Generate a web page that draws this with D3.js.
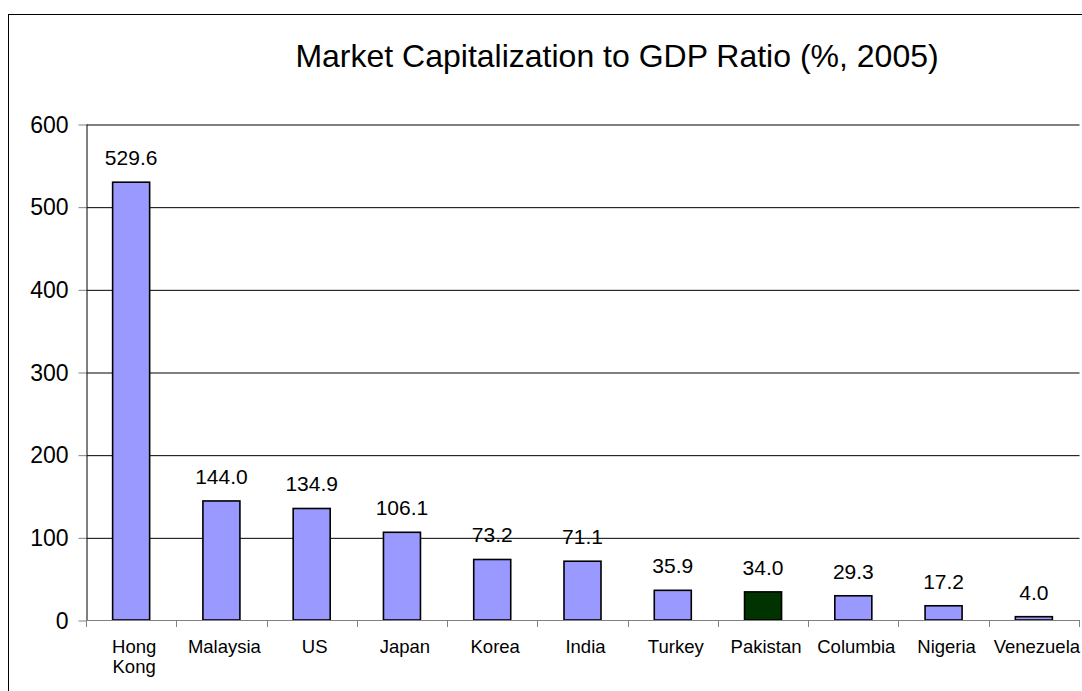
<!DOCTYPE html>
<html>
<head>
<meta charset="utf-8">
<script src="https://cdn.jsdelivr.net/npm/d3@7"></script>
<style>
  html, body { margin: 0; padding: 0; background: #fff; }
  svg { display: block; font-family: "Liberation Sans", Arial, sans-serif; }
</style>
</head>
<body>
<svg id="chart" width="1082" height="691"></svg>
<script>
// Market capitalization as a share of GDP, 2005
const categories = ["Hong Kong", "Malaysia", "US", "Japan", "Korea", "India", "Turkey", "Pakistan", "Columbia", "Nigeria", "Venezuela"];
const values = [529.6, 144.0, 134.9, 106.1, 73.2, 71.1, 35.9, 34.0, 29.3, 17.2, 4.0];
const highlight = ["Pakistan"];
const yTicks = [0, 100, 200, 300, 400, 500, 600];
const title = "Market Capitalization to GDP Ratio (%, 2005)";

const svg = d3.select("#chart");
const plot = { left: 86, right: 1079, top: 124, bottom: 620 };

// Outer frame of the chart area
svg.append("rect")
  .attr("x", 8.5).attr("y", 14.5)
  .attr("width", 1090).attr("height", 700)
  .attr("fill", "none").attr("stroke", "#000").attr("stroke-width", 1);

const x = d3.scaleBand()
  .domain(categories)
  .range([plot.left, plot.right])
  .paddingInner(0.59)
  .paddingOuter(0.295);

const y = d3.scaleLinear()
  .domain([0, 600])
  .range([plot.bottom, plot.top]);

// Horizontal gridlines
const grid = svg.append("g")
  .attr("transform", `translate(${plot.left},0)`)
  .call(d3.axisLeft(y).tickValues(yTicks.filter(t => t > 0)).tickSize(-(plot.right - plot.left)).tickFormat(""));
grid.select(".domain").remove();
grid.selectAll("line").attr("stroke", "#000").attr("stroke-width", 1)
  .attr("transform", "translate(0.5,0.5)");

// Y axis
const yAxis = svg.append("g")
  .attr("transform", `translate(${plot.left + 0.5},0)`)
  .call(d3.axisLeft(y).tickValues(yTicks).tickSize(8).tickSizeOuter(0).tickPadding(10).tickFormat(d3.format("d")));
yAxis.select(".domain").attr("stroke", "#000");
yAxis.selectAll(".tick line").attr("stroke", "#808080").attr("transform", "translate(0,0.5)");
yAxis.selectAll(".tick text")
  .attr("font-size", 23).attr("fill", "#000")
  .attr("font-family", "Liberation Sans, Arial, sans-serif")
  .attr("dy", "0.36em");

// Bars
svg.append("g").selectAll("rect")
  .data(categories)
  .join("rect")
  .attr("x", (d) => x(d))
  .attr("y", (d, i) => y(values[i]))
  .attr("width", x.bandwidth())
  .attr("height", (d, i) => y(0) - y(values[i]))
  .attr("fill", d => highlight.includes(d) ? "#003300" : "#9999FF")
  .attr("stroke", "#000")
  .attr("stroke-width", 1.6);

// Category axis along zero, with ticks at the band edges
const step = x.step();
const xAxis = svg.append("g");
xAxis.append("line")
  .attr("x1", plot.left).attr("x2", plot.right)
  .attr("y1", y(0) + 0.5).attr("y2", y(0) + 0.5)
  .attr("stroke", "#808080").attr("stroke-width", 1.2);
const edges = d3.range(categories.length + 1).map(i => plot.left + i * step);
xAxis.selectAll("line.tick")
  .data(edges)
  .join("line")
  .attr("class", "tick")
  .attr("x1", d => Math.round(d) + 0.5).attr("x2", d => Math.round(d) + 0.5)
  .attr("y1", y(0)).attr("y2", y(0) + 7)
  .attr("stroke", "#808080").attr("stroke-width", 1);

// Category labels (wrapped onto two lines where needed)
const labels = svg.append("g").selectAll("text")
  .data(categories)
  .join("text")
  .attr("x", d => x(d) + x.bandwidth() / 2 + 3)
  .attr("y", 653)
  .attr("text-anchor", "middle")
  .attr("font-size", 18.5)
  .attr("fill", "#000");
labels.each(function (d) {
  const words = d === "Hong Kong" ? d.split(" ") : [d];
  const t = d3.select(this);
  words.forEach((w, i) => {
    t.append("tspan")
      .attr("x", x(d) + x.bandwidth() / 2 + 3)
      .attr("dy", i === 0 ? 0 : 20)
      .text(w);
  });
});

// Value labels above the bars
svg.append("g").selectAll("text")
  .data(categories)
  .join("text")
  .attr("x", d => x(d) + x.bandwidth() / 2)
  .attr("y", (d, i) => y(values[i]) - 17)
  .attr("text-anchor", "middle")
  .attr("font-size", 21)
  .attr("fill", "#000")
  .text((d, i) => values[i].toFixed(1));

// Title
svg.append("text")
  .attr("x", 617)
  .attr("y", 67)
  .attr("text-anchor", "middle")
  .attr("font-size", 32)
  .attr("fill", "#000")
  .text(title);
</script>
</body>
</html>
